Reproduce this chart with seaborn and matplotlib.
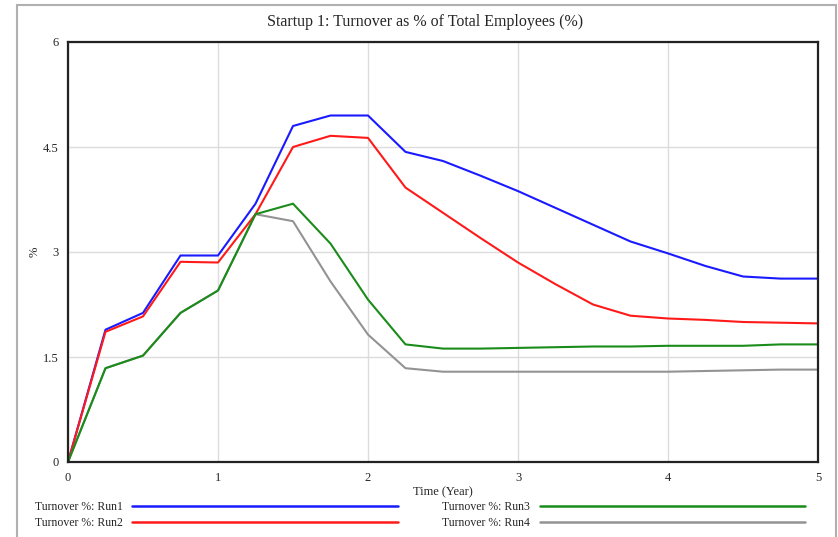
import numpy as np
import pandas as pd
import seaborn as sns
from matplotlib import pyplot as plt
from matplotlib.lines import Line2D
from matplotlib.patches import Rectangle

# time in years, quarterly steps
time = [0, 0.25, 0.5, 0.75, 1, 1.25, 1.5, 1.75, 2, 2.25, 2.5, 2.75, 3,
        3.25, 3.5, 3.75, 4, 4.25, 4.5, 4.75, 5]

run1 = [0, 1.89, 2.13, 2.95, 2.95, 3.69, 4.80, 4.95, 4.95, 4.43, 4.30,
        4.09, 3.87, 3.63, 3.39, 3.15, 2.98, 2.80, 2.65, 2.62, 2.62]
run2 = [0, 1.86, 2.08, 2.86, 2.85, 3.54, 4.50, 4.66, 4.63, 3.92, 3.56,
        3.20, 2.85, 2.54, 2.25, 2.09, 2.05, 2.03, 2.00, 1.99, 1.98]
run3 = [0, 1.34, 1.52, 2.13, 2.45, 3.54, 3.69, 3.12, 2.32, 1.68, 1.62,
        1.62, 1.63, 1.64, 1.65, 1.65, 1.66, 1.66, 1.66, 1.68, 1.68]
run4 = [0, 1.34, 1.52, 2.13, 2.45, 3.54, 3.44, 2.58, 1.82, 1.34, 1.29,
        1.29, 1.29, 1.29, 1.29, 1.29, 1.29, 1.30, 1.31, 1.32, 1.32]

run_names = ["Turnover %: Run1", "Turnover %: Run2",
             "Turnover %: Run3", "Turnover %: Run4"]
run_colors = ["#1a1aff", "#ff1a1a", "#1a8c1a", "#939393"]

df = pd.concat(
    [pd.DataFrame({"time": time, "value": v, "run": n})
     for v, n in zip([run1, run2, run3, run4], run_names)],
    ignore_index=True,
)

sns.set_style("white")
plt.rcParams["font.family"] = ["Liberation Serif", "DejaVu Serif"]

fig = plt.figure(figsize=(8.38, 5.37), dpi=100)
ax = fig.add_axes([68 / 838, 1 - 462 / 537, 750 / 838, 420 / 537])

# draw run4 first so run3 sits on top where they overlap
order = [run_names[3], run_names[0], run_names[1], run_names[2]]
for name in order:
    sns.lineplot(data=df[df["run"] == name], x="time", y="value",
                 color=run_colors[run_names.index(name)], lw=1.5, ax=ax,
                 legend=False)

ax.set_xlim(0, 5)
ax.set_ylim(0, 6)
ax.set_xticks([0, 1, 2, 3, 4, 5])
ax.set_xticklabels(["0", "1", "2", "3", "4", "5"])
ax.set_yticks([0, 1.5, 3, 4.5, 6])
ax.set_yticklabels(["0", "1.5", "3", "4.5", "6"])
ax.grid(True, color="#dcdcdc", lw=1)
ax.tick_params(length=0, labelsize=9, pad=7)
for s in ax.spines.values():
    s.set_color("#222222")
    s.set_linewidth(1.6)

ax.set_xlabel("Time (Year)", fontsize=9, labelpad=2)
ax.set_ylabel("%", fontsize=9)
ax.yaxis.set_label_coords(-0.036, 0.5)
fig.text(425 / 838, 1 - 22 / 537,
         "Startup 1: Turnover as % of Total Employees (%)",
         ha="center", va="center", fontsize=11.5)

handles = [Line2D([], [], color=c, lw=1.8) for c in run_colors]
fig.legend(handles, run_names, loc="center", ncol=2,
           bbox_to_anchor=(420 / 838, 1 - 515 / 537),
           frameon=False, fontsize=8.5, markerfirst=False,
           handlelength=22.5, columnspacing=3.8, handletextpad=0.8,
           labelspacing=0.35)

fig.patches.append(Rectangle((17 / 838, -0.01), 819 / 838 - 0.0005,
                             1 - 5 / 537 + 0.01, transform=fig.transFigure,
                             fill=False, edgecolor="#b0b0b0", lw=1.5))

fig.savefig("out.png", dpi=100)
